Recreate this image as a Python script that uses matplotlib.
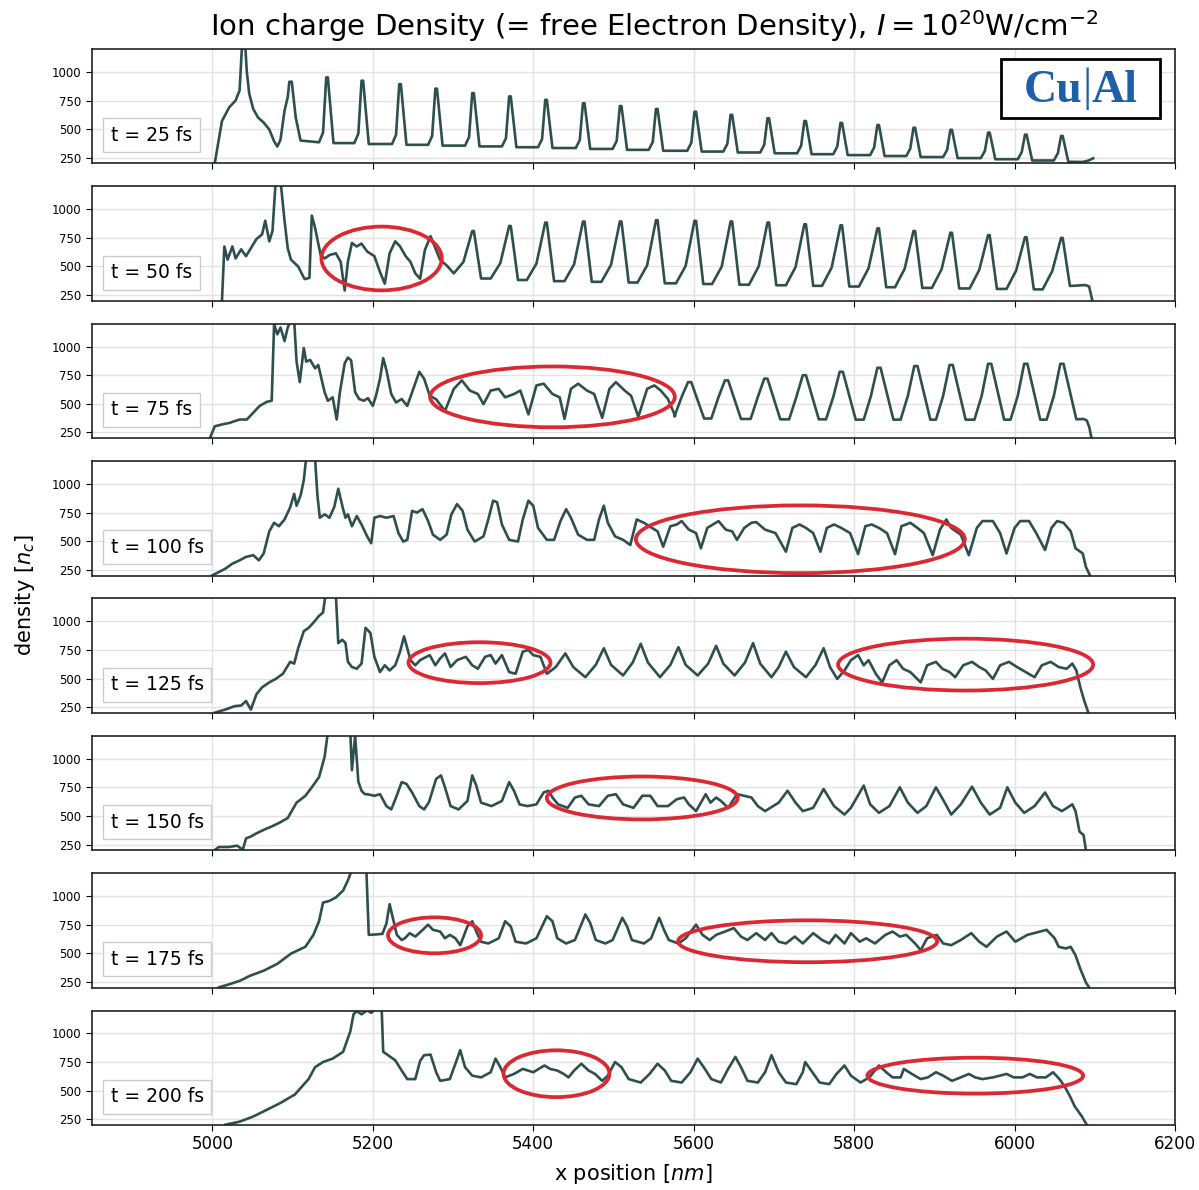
import matplotlib
matplotlib.use('Agg')
import matplotlib.pyplot as plt
from matplotlib.patches import Ellipse, Rectangle
from matplotlib.lines import Line2D

times = [25, 50, 75, 100, 125, 150, 175, 200]
x_ticks = [5000, 5200, 5400, 5600, 5800, 6000, 6200]
y_ticks = [250, 500, 750, 1000]

# ---------------- t = 25 fs ----------------
p1_head_x = [5003, 5012, 5021, 5029, 5034, 5037, 5041, 5043, 5046, 5051, 5057, 5064, 5071, 5077, 5081,
             5085, 5090, 5094, 5096, 5099, 5104, 5110]
p1_head_y = [200, 571, 690, 750, 839, 1230, 1230, 1000, 810, 676, 601, 557, 497, 393, 348,
             408, 661, 780, 914, 914, 600, 400]
p1_pk_x = [5143, 5187, 5234, 5279, 5325, 5371, 5416, 5463, 5509, 5554, 5602, 5647, 5693, 5739, 5784,
           5830, 5875, 5921, 5968, 6014, 6059]
p1_pk_y = [952, 923, 893, 854, 815, 786, 756, 726, 702, 676, 652, 625, 595, 571, 554,
           536, 512, 494, 470, 452, 441]
p1_sh = [470, 460, 450, 440, 430, 420, 412, 404, 396, 388, 380, 372, 364, 356, 348,
         340, 330, 320, 310, 300, 290]
p1_lo = [385, 378, 370, 363, 356, 349, 342, 335, 327, 319, 311, 304, 296, 289, 281,
         273, 265, 256, 247, 237, 226, 215]
p1_tail_x = [6085, 6092, 6098]
p1_tail_y = [213, 225, 245]

# ---------------- t = 50 fs ----------------
p2_head_x = [5012, 5015, 5019, 5025, 5029, 5036, 5042, 5048, 5055, 5062, 5066, 5071, 5075, 5079, 5085,
             5090, 5094, 5098, 5107, 5115, 5121, 5124, 5128, 5135, 5140, 5146, 5154, 5160, 5165, 5169,
             5174, 5180, 5186, 5193, 5202, 5209, 5215, 5221, 5228, 5234, 5241, 5247, 5253, 5259, 5265,
             5272, 5278, 5284, 5292]
p2_head_y = [200, 675, 560, 675, 570, 650, 590, 660, 740, 780, 900, 720, 810, 1250, 1250,
             900, 660, 560, 500, 390, 400, 945, 840, 600, 570, 600, 615, 540, 290, 542,
             705, 675, 700, 631, 590, 452, 350, 615, 720, 675, 590, 540, 440, 393, 645,
             765, 660, 557, 510]
p2_pk_x = [5325, 5371, 5416, 5463, 5509, 5554, 5602, 5647, 5693, 5739, 5784, 5830, 5875, 5921, 5968,
           6014, 6059]
p2_pk_y = [810, 854, 884, 893, 893, 905, 899, 893, 884, 869, 860, 833, 810, 795, 774, 756, 750]
p2_sh = [540, 530, 525, 520, 515, 510, 505, 500, 500, 495, 490, 485, 480, 475, 470, 465, 460]
p2_lo = [440, 395, 382, 372, 366, 360, 353, 347, 341, 336, 331, 325, 319, 313, 308, 304, 300, 330]
p2_tail_x = [6075, 6088, 6093, 6097]
p2_tail_y = [332, 338, 325, 200]

# ---------------- t = 75 fs ----------------
p3_head_x = [4997, 5003, 5012, 5021, 5034, 5043, 5051, 5059, 5068, 5074, 5077, 5081, 5085, 5090, 5094,
             5098, 5102, 5105, 5109, 5114, 5117, 5122, 5128, 5132, 5140, 5144, 5150, 5155, 5159, 5165,
             5169, 5173, 5178, 5183, 5189, 5194, 5200, 5204, 5209, 5213, 5217, 5223, 5229, 5236, 5243,
             5249, 5258, 5264, 5271, 5279, 5290, 5301, 5311, 5321, 5331, 5338, 5347, 5357, 5365, 5376,
             5384, 5394, 5404, 5413, 5424, 5433, 5439, 5447, 5456, 5467, 5476, 5486, 5495, 5503, 5514,
             5522, 5531, 5542, 5551, 5559, 5568, 5577]
p3_head_y = [200, 304, 320, 333, 363, 363, 423, 482, 518, 527, 1196, 1107, 1167, 1048, 1167,
             1230, 1230, 869, 690, 988, 869, 884, 810, 840, 601, 527, 557, 363, 601, 854,
             905, 880, 601, 542, 527, 550, 482, 571, 720, 899, 795, 586, 512, 542, 482,
             601, 780, 720, 571, 540, 438, 631, 705, 616, 586, 497, 616, 631, 557, 586,
             616, 408, 661, 676, 586, 557, 369, 631, 676, 616, 586, 378, 631, 690, 616,
             571, 387, 631, 661, 616, 542, 393]
p3_pk_x = [5595, 5641, 5690, 5738, 5784, 5831, 5877, 5921, 5969, 6014, 6059]
p3_pk_y = [690, 705, 720, 750, 780, 815, 830, 840, 850, 850, 850]
p3_sh = [560, 560, 560, 560, 560, 570, 570, 570, 570, 570, 570]
p3_lo = [390, 372, 368, 365, 365, 362, 362, 362, 362, 362, 362, 365]
p3_tail_x = [6086, 6090, 6093, 6096]
p3_tail_y = [368, 355, 300, 200]

# ---------------- t = 100 fs ----------------
p4_x = [5000, 5008, 5016, 5025, 5034, 5042, 5051, 5058, 5064, 5071, 5077, 5083, 5090, 5097, 5102,
        5105, 5110, 5114, 5117, 5128, 5131, 5134, 5140, 5146, 5152, 5157, 5163, 5166, 5169, 5174,
        5180, 5186, 5193, 5198, 5202, 5209, 5217, 5226, 5232, 5238, 5243, 5249, 5255, 5262, 5269,
        5275, 5284, 5292, 5298, 5305, 5312, 5318, 5327, 5338, 5344, 5350, 5355, 5361, 5370, 5381,
        5387, 5394, 5400, 5406, 5417, 5426, 5434, 5441, 5447, 5456, 5467, 5476, 5482, 5488, 5493,
        5502, 5512, 5521, 5529, 5538, 5548, 5555, 5562, 5571, 5579, 5585, 5594, 5603, 5609, 5617,
        5624, 5631, 5640, 5648, 5654, 5663, 5672, 5678, 5689, 5702, 5715, 5723, 5732, 5740, 5749,
        5758, 5766, 5775, 5784, 5795, 5805, 5814, 5822, 5831, 5841, 5851, 5859, 5870, 5879, 5887,
        5898, 5907, 5915, 5921, 5933, 5943, 5953, 5960, 5973, 5982, 5990, 6000, 6007, 6018, 6027,
        6038, 6046, 6053, 6061, 6070, 6076, 6085, 6089, 6094]
p4_y = [202, 230, 259, 304, 333, 363, 378, 333, 393, 586, 661, 631, 690, 795, 914,
        810, 899, 1033, 1230, 1230, 900, 705, 735, 705, 800, 958, 780, 705, 735, 631,
        720, 646, 542, 482, 705, 720, 705, 720, 571, 497, 512, 765, 750, 780, 676,
        557, 512, 557, 735, 824, 765, 601, 497, 542, 690, 854, 840, 646, 512, 497,
        690, 854, 810, 616, 512, 512, 676, 780, 705, 557, 512, 512, 690, 810, 661,
        542, 512, 467, 690, 661, 616, 586, 452, 631, 646, 676, 601, 571, 438, 616,
        646, 676, 601, 586, 512, 616, 661, 667, 601, 571, 408, 616, 646, 616, 571,
        408, 616, 646, 616, 571, 387, 631, 646, 616, 571, 387, 631, 661, 616, 571,
        378, 601, 690, 616, 557, 378, 616, 676, 676, 571, 393, 616, 676, 676, 571,
        423, 616, 676, 661, 586, 438, 393, 274, 202]

# ---------------- t = 125 fs ----------------
p5_x = [5003, 5016, 5028, 5036, 5042, 5048, 5055, 5062, 5071, 5079, 5088, 5097, 5102, 5107, 5114,
        5120, 5126, 5133, 5138, 5141, 5154, 5157, 5162, 5166, 5169, 5174, 5180, 5186, 5191, 5197,
        5202, 5209, 5215, 5221, 5228, 5234, 5239, 5243, 5247, 5253, 5259, 5271, 5278, 5284, 5290,
        5297, 5305, 5316, 5324, 5331, 5340, 5347, 5353, 5361, 5370, 5378, 5387, 5394, 5400, 5409,
        5417, 5428, 5440, 5450, 5465, 5478, 5488, 5497, 5512, 5524, 5534, 5543, 5558, 5571, 5581,
        5590, 5605, 5618, 5628, 5637, 5651, 5664, 5674, 5683, 5697, 5706, 5715, 5725, 5740, 5752,
        5762, 5770, 5779, 5788, 5796, 5805, 5812, 5818, 5827, 5835, 5844, 5853, 5861, 5870, 5883,
        5891, 5902, 5910, 5919, 5926, 5936, 5947, 5956, 5964, 5973, 5982, 5993, 6003, 6014, 6025,
        6034, 6045, 6055, 6065, 6072, 6077, 6082, 6087, 6092]
p5_y = [202, 229, 259, 265, 304, 229, 363, 423, 467, 497, 542, 646, 631, 765, 914,
        943, 988, 1048, 1077, 1230, 1230, 810, 839, 810, 646, 601, 586, 631, 943, 899,
        690, 557, 616, 571, 616, 735, 869, 765, 661, 616, 661, 705, 616, 676, 720,
        601, 661, 690, 616, 586, 690, 705, 631, 705, 557, 542, 735, 750, 705, 690,
        542, 600, 720, 600, 512, 620, 765, 620, 527, 640, 804, 640, 512, 620, 774,
        620, 527, 630, 786, 630, 527, 640, 810, 630, 512, 600, 735, 600, 512, 620,
        765, 600, 497, 571, 661, 705, 616, 661, 542, 467, 616, 661, 586, 557, 467,
        616, 646, 586, 557, 512, 616, 646, 601, 571, 497, 616, 646, 601, 557, 512,
        616, 646, 601, 586, 631, 571, 423, 304, 202]

# ---------------- t = 150 fs ----------------
p6_x = [5003, 5008, 5021, 5031, 5038, 5042, 5048, 5055, 5064, 5074, 5083, 5094, 5105, 5116, 5124,
        5133, 5140, 5144, 5172, 5174, 5178, 5182, 5186, 5190, 5193, 5202, 5209, 5217, 5223, 5229,
        5236, 5242, 5249, 5258, 5264, 5270, 5279, 5285, 5290, 5297, 5307, 5318, 5324, 5329, 5335,
        5348, 5361, 5370, 5376, 5383, 5393, 5404, 5413, 5419, 5424, 5431, 5443, 5452, 5460, 5469,
        5482, 5493, 5503, 5512, 5525, 5536, 5546, 5555, 5568, 5579, 5588, 5594, 5603, 5609, 5615,
        5621, 5628, 5634, 5643, 5654, 5663, 5672, 5680, 5689, 5706, 5717, 5727, 5736, 5749, 5762,
        5775, 5788, 5796, 5812, 5820, 5831, 5844, 5857, 5867, 5879, 5890, 5902, 5913, 5921, 5933,
        5947, 5958, 5969, 5982, 5991, 6001, 6012, 6025, 6038, 6048, 6059, 6072, 6076, 6081, 6086,
        6089]
p6_y = [202, 228, 229, 240, 205, 304, 320, 348, 378, 408, 438, 482, 616, 676, 750,
        839, 1018, 1230, 1230, 900, 1200, 800, 720, 690, 690, 676, 690, 586, 557, 661,
        795, 780, 705, 586, 557, 620, 824, 854, 750, 586, 557, 631, 854, 765, 616,
        586, 631, 795, 720, 601, 586, 601, 705, 720, 661, 601, 571, 661, 676, 601,
        586, 676, 690, 601, 571, 676, 676, 586, 586, 646, 661, 601, 542, 616, 690,
        616, 661, 631, 571, 690, 676, 661, 586, 542, 616, 720, 616, 542, 571, 735,
        586, 512, 571, 765, 601, 527, 586, 750, 616, 527, 586, 750, 616, 512, 601,
        756, 616, 512, 571, 750, 616, 527, 586, 705, 586, 542, 601, 542, 363, 333,
        202]

# ---------------- t = 175 fs ----------------
p7_x = [5008, 5021, 5034, 5047, 5064, 5081, 5098, 5116, 5126, 5133, 5138, 5146, 5154, 5163, 5169,
        5174, 5192, 5195, 5205, 5212, 5217, 5221, 5226, 5230, 5236, 5240, 5246, 5253, 5260, 5269,
        5275, 5284, 5290, 5296, 5303, 5309, 5318, 5324, 5329, 5335, 5344, 5357, 5365, 5372, 5378,
        5391, 5404, 5417, 5424, 5430, 5441, 5452, 5465, 5471, 5478, 5490, 5499, 5511, 5517, 5523,
        5538, 5547, 5557, 5563, 5569, 5581, 5590, 5603, 5611, 5620, 5628, 5639, 5650, 5659, 5667,
        5678, 5689, 5697, 5706, 5715, 5726, 5736, 5749, 5760, 5769, 5777, 5788, 5796, 5807, 5815,
        5826, 5839, 5848, 5857, 5865, 5876, 5883, 5891, 5903, 5911, 5921, 5933, 5946, 5956, 5965,
        5978, 5990, 6001, 6016, 6040, 6050, 6055, 6064, 6070, 6076, 6082, 6089, 6093]
p7_y = [202, 229, 259, 304, 348, 408, 497, 557, 661, 780, 943, 958, 988, 1048, 1137,
        1230, 1230, 661, 665, 670, 760, 929, 780, 661, 616, 631, 676, 646, 690, 750,
        705, 690, 631, 661, 631, 571, 735, 780, 690, 601, 586, 631, 780, 735, 601,
        586, 631, 824, 780, 631, 586, 616, 839, 765, 616, 586, 616, 810, 735, 616,
        586, 631, 810, 705, 616, 586, 631, 750, 661, 616, 661, 690, 720, 646, 616,
        676, 616, 676, 601, 586, 646, 586, 676, 616, 586, 661, 586, 676, 601, 631,
        586, 661, 690, 646, 661, 586, 527, 631, 661, 586, 571, 616, 676, 601, 557,
        646, 690, 601, 661, 705, 631, 557, 542, 557, 482, 363, 244, 202]

# ---------------- t = 200 fs ----------------
p8_x = [5016, 5034, 5051, 5068, 5085, 5103, 5120, 5128, 5138, 5150, 5163, 5172, 5176, 5180, 5186,
        5193, 5198, 5206, 5211, 5213, 5219, 5228, 5236, 5243, 5253, 5259, 5264, 5272, 5279, 5284,
        5296, 5303, 5309, 5315, 5324, 5335, 5347, 5353, 5359, 5365, 5376, 5387, 5400, 5414, 5421,
        5430, 5438, 5444, 5451, 5460, 5469, 5477, 5486, 5493, 5502, 5510, 5519, 5534, 5545, 5555,
        5564, 5572, 5585, 5596, 5605, 5614, 5622, 5634, 5643, 5652, 5659, 5667, 5680, 5689, 5697,
        5706, 5715, 5728, 5736, 5739, 5748, 5757, 5769, 5778, 5788, 5796, 5808, 5819, 5831, 5840,
        5848, 5858, 5862, 5872, 5883, 5892, 5902, 5911, 5922, 5933, 5943, 5951, 5960, 5973, 5990,
        5999, 6010, 6019, 6028, 6039, 6048, 6056, 6062, 6069, 6075, 6084, 6090]
p8_y = [202, 229, 274, 333, 393, 467, 601, 705, 750, 780, 839, 1018, 1167, 1196, 1167,
        1202, 1180, 1230, 1230, 839, 810, 765, 676, 601, 601, 760, 810, 815, 661, 586,
        601, 735, 854, 705, 631, 616, 661, 780, 705, 616, 646, 690, 661, 720, 690,
        676, 646, 616, 676, 735, 676, 646, 586, 631, 750, 705, 601, 571, 646, 735,
        676, 586, 571, 661, 780, 690, 601, 571, 690, 795, 705, 586, 571, 661, 810,
        661, 571, 557, 661, 750, 661, 571, 557, 646, 720, 631, 571, 616, 720, 661,
        616, 616, 690, 646, 601, 616, 661, 631, 586, 616, 646, 616, 601, 616, 646,
        616, 616, 646, 616, 616, 661, 601, 542, 452, 363, 274, 202]

# ellipse annotations per panel: (center x, center y, width nm, height density)
ell_cx = [[], [5211], [5424], [5733], [5333, 5939], [5536], [5277, 5742], [5429, 5951]]
ell_cy = [[], [570], [561], [517], [639, 622], [657], [657, 605], [648, 631]]
ell_w = [[], [150], [305], [410], [177, 318], [238], [116, 323], [132, 269]]
ell_h = [[], [557], [531], [592], [357, 453], [375], [314, 366], [409, 314]]


def train(px, py, sh, lo, left, shoulder, right, top):
    xs, ys = [], []
    for i in range(len(px)):
        xs += [px[i] - left, px[i] - shoulder, px[i] - top, px[i] + top, px[i] + right]
        ys += [lo[i], sh[i], py[i], py[i], lo[i + 1]]
    return xs, ys


t1x, t1y = train(p1_pk_x, p1_pk_y, p1_sh, p1_lo, 10, 5, 8, 1.0)
t2x, t2y = train(p2_pk_x, p2_pk_y, p2_sh, p2_lo, 24, 12, 10, 1.0)
t3x, t3y = train(p3_pk_x, p3_pk_y, p3_sh, p3_lo, 19, 10, 18, 2.0)

curves = [
    (p1_head_x + t1x + p1_tail_x, p1_head_y + t1y + p1_tail_y),
    (p2_head_x + t2x + p2_tail_x, p2_head_y + t2y + p2_tail_y),
    (p3_head_x + t3x + p3_tail_x, p3_head_y + t3y + p3_tail_y),
    (p4_x, p4_y),
    (p5_x, p5_y),
    (p6_x, p6_y),
    (p7_x, p7_y),
    (p8_x, p8_y),
]

line_color = '#2f4f4f'
red = '#dc2832'

fig, axes = plt.subplots(8, 1, figsize=(11.99, 11.90), dpi=100, sharex=True)
fig.subplots_adjust(left=92 / 1199, right=1175 / 1199, top=1 - 49 / 1190, bottom=1 - 1125 / 1190,
                    hspace=0.2)

for i, ax in enumerate(axes):
    xs, ys = curves[i]
    ax.plot(xs, ys, color=line_color, lw=1.9, solid_joinstyle='round')
    ax.set_xlim(4850, 6200)
    ax.set_ylim(200, 1200)
    ax.set_yticks(y_ticks)
    ax.set_xticks(x_ticks)
    ax.grid(True, color='#e3e3e3', lw=1.0)
    ax.set_axisbelow(True)
    ax.tick_params(axis='y', labelsize=8.5, length=4)
    ax.tick_params(axis='x', labelsize=12, length=4)
    for s in ax.spines.values():
        s.set_color('#222222')
        s.set_linewidth(1.2)
    for cx, cy, w, h in zip(ell_cx[i], ell_cy[i], ell_w[i], ell_h[i]):
        ax.add_patch(Ellipse((cx, cy), w, h, fill=False, edgecolor=red, lw=2.7, zorder=5))
    ax.legend(handles=[Line2D([], [], linestyle='none')], labels=[f't = {times[i]} fs'],
              loc='lower left', handlelength=0, handletextpad=0, fontsize=13.5,
              borderaxespad=0.6, framealpha=1.0, edgecolor='#cccccc', fancybox=False)

axes[-1].set_xlabel('x position [$nm$]', fontsize=15, labelpad=6)
fig.text(0.021, 0.5, 'density [$n_c$]', rotation=90, va='center', ha='center', fontsize=15)
fig.text(654 / 1199, 1 - 26 / 1190,
         r'Ion charge Density (= free Electron Density), $I = 10^{20}$W/cm$^{-2}$',
         ha='center', va='center', fontsize=21)

rect = Rectangle((1001 / 1199, 1 - 118 / 1190), 159 / 1199, 59 / 1190, transform=fig.transFigure,
                 facecolor='white', edgecolor='black', lw=2, zorder=10)
fig.add_artist(rect)
blue = '#1f5fa8'
fig.text(1083 / 1199, 1 - 91 / 1190, 'Cu', ha='right', va='center', fontsize=33,
         fontweight='bold', family='Liberation Serif', color=blue, zorder=11)
fig.text(1087 / 1199, 1 - 89 / 1190, '|', ha='center', va='center', fontsize=33,
         family='Liberation Serif', color=blue, zorder=11)
fig.text(1091 / 1199, 1 - 91 / 1190, 'Al', ha='left', va='center', fontsize=33,
         fontweight='bold', family='Liberation Serif', color=blue, zorder=11)

fig.savefig('out.png', dpi=100)
